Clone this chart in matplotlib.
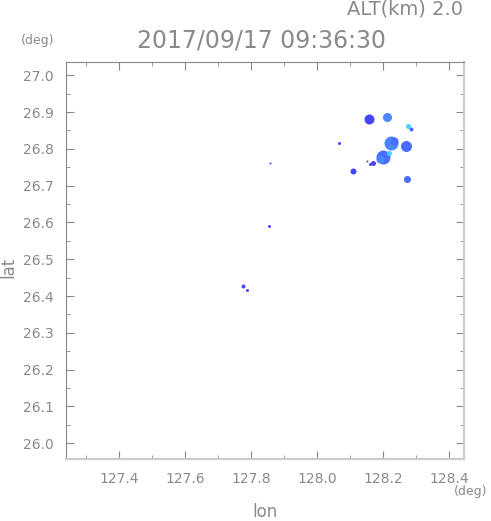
import numpy as np
import matplotlib
matplotlib.use('Agg')
import matplotlib.pyplot as plt
from matplotlib.ticker import MultipleLocator

# echo blobs (lon, lat, diameter in px, colour class)
blob_lon = [128.158, 128.212, 128.276, 128.285, 128.067, 128.224, 128.270,
            128.200, 128.218, 128.170, 128.109, 128.273, 127.858, 127.855,
            127.776, 127.788, 128.190, 128.232, 128.160, 128.150]
blob_lat = [26.881, 26.887, 26.862, 26.854, 26.816, 26.816, 26.808,
            26.778, 26.789, 26.762, 26.740, 26.718, 26.762, 26.591,
            26.428, 26.417, 26.772, 26.822, 26.758, 26.768]
blob_size = [10, 9, 5, 4, 3, 14, 11, 14, 5, 5, 6, 7, 2, 3, 4, 3, 8, 8, 3, 2]
blob_level = [0, 2, 3, 1, 0, 2, 1, 1, 3, 0, 0, 1, 0, 0, 0, 0, 2, 1, 0, 0]
level_colors = ['#4646ff', '#4a6cff', '#4a86ff', '#40d4ff']

plt.rcParams['font.family'] = ['DejaVu Sans']
txt = '#8a8a8a'

fig = plt.figure(figsize=(4.91, 5.21), dpi=100)
ax = fig.add_axes([0.1344, 0.119, 0.8106, 0.762])

# draw larger blobs first so small ones stay visible
order = np.argsort(blob_size)[::-1]
for i in order:
    d = blob_size[i] * 0.72
    ax.scatter(blob_lon[i], blob_lat[i], s=d * d, marker='o',
               color=level_colors[blob_level[i]], linewidths=0, zorder=3)

ax.set_xlim(127.239, 128.445)
ax.set_ylim(25.957, 27.036)

ax.xaxis.set_major_locator(MultipleLocator(0.2))
ax.xaxis.set_minor_locator(MultipleLocator(0.1))
ax.yaxis.set_major_locator(MultipleLocator(0.1))
ax.yaxis.set_minor_locator(MultipleLocator(0.05))
ax.xaxis.set_major_formatter(plt.FormatStrFormatter('%.1f'))
ax.yaxis.set_major_formatter(plt.FormatStrFormatter('%.1f'))

ax.tick_params(which='both', direction='in', top=True, right=True,
               colors='#888888', labelcolor=txt, labelsize=10)
ax.tick_params(which='major', length=6, width=0.8, pad=9)
ax.tick_params(which='minor', length=3, width=0.6)

ax.spines['top'].set_color('#888888')
ax.spines['left'].set_color('#888888')
ax.spines['top'].set_linewidth(0.8)
ax.spines['left'].set_linewidth(0.8)
ax.spines['right'].set_color('#cccccc')
ax.spines['bottom'].set_color('#cccccc')
ax.spines['right'].set_linewidth(1.6)
ax.spines['bottom'].set_linewidth(1.6)

# axis names placed in figure coords so they stay inside the canvas
fig.text(0.54, 0.017, 'lon', color=txt, fontsize=12, ha='center', va='center')
fig.text(0.018, 0.487, 'lat', color=txt, fontsize=12, ha='center',
         va='center', rotation=90)

fig.text(0.532, 0.923, '2017/09/17 09:36:30', color=txt, fontsize=17,
         ha='center', va='center')
fig.text(0.943, 0.983, 'ALT(km) 2.0', color=txt, fontsize=14,
         ha='right', va='center')
fig.text(0.077, 0.922, '(deg)', color=txt, fontsize=9, ha='center', va='center')
fig.text(0.958, 0.057, '(deg)', color=txt, fontsize=9, ha='center', va='center')

fig.savefig('out.png', dpi=100)
